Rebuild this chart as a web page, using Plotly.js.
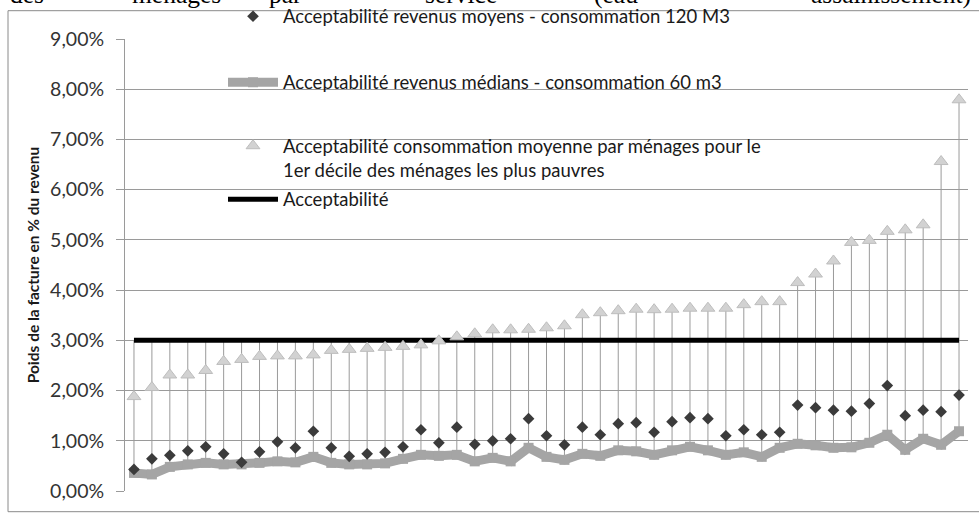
<!DOCTYPE html>
<html>
<head>
<meta charset="utf-8">
<script src="https://cdn.plot.ly/plotly-3.0.1.min.js"></script>
<style>html,body{margin:0;padding:0;background:#fff;}#chart{width:979px;height:522px;}</style>
</head>
<body>
<div id="chart"></div>
<script>
// ---- Data ----
var categories = [];
for (var k = 1; k <= 47; k++) categories.push(k);

var moyens120 = [0.43,0.64,0.71,0.80,0.88,0.74,0.57,0.78,0.98,0.86,1.19,0.86,0.69,0.74,0.77,0.88,1.22,0.96,1.27,0.93,1.00,1.04,1.44,1.10,0.92,1.27,1.12,1.34,1.36,1.17,1.38,1.46,1.44,1.10,1.22,1.12,1.17,1.71,1.66,1.61,1.59,1.74,2.10,1.50,1.61,1.58,1.91];
var medians60 = [0.36,0.33,0.48,0.53,0.56,0.53,0.53,0.56,0.59,0.57,0.68,0.56,0.53,0.53,0.55,0.64,0.72,0.70,0.72,0.59,0.66,0.59,0.86,0.68,0.62,0.74,0.70,0.81,0.79,0.72,0.81,0.88,0.81,0.72,0.77,0.68,0.86,0.94,0.91,0.86,0.87,0.96,1.12,0.82,1.04,0.92,1.19];
var pauvres = [1.88,2.06,2.31,2.31,2.40,2.58,2.62,2.68,2.69,2.69,2.71,2.80,2.82,2.84,2.86,2.88,2.91,2.99,3.07,3.13,3.21,3.21,3.22,3.25,3.29,3.51,3.55,3.59,3.62,3.61,3.62,3.64,3.64,3.64,3.71,3.77,3.77,4.15,4.32,4.58,4.95,4.99,5.17,5.20,5.30,6.56,7.79];
var acceptabilite = categories.map(function(){ return 3; });

var seriesNames = [
  "Acceptabilité revenus moyens - consommation 120 M3",
  "Acceptabilité revenus médians - consommation 60 m3",
  "Acceptabilité consommation moyenne par ménages pour le<br>1er décile des ménages les plus pauvres",
  "Acceptabilité"
];
var yTickVals = [0,1,2,3,4,5,6,7,8,9];
var yTickLabels = ["0,00%","1,00%","2,00%","3,00%","4,00%","5,00%","6,00%","7,00%","8,00%","9,00%"];
var yTitle = "Poids de la facture en % du revenu";
var headerWords = ["des","ménages","par","service","(eau","assainissement)"];
var headerX = [8,130,267,423,592,809];

// ---- Layout geometry ----
var W = 979, H = 522;
var L = 125, R = 11, T = 39.3, B = 30.7;
var PW = W - L - R, PH = H - T - B;
function px2x(px){ return (px - L) / PW; }
function py2y(py){ return (H - B - py) / PH; }

// High-low lines from data
var hlX = [], hlY = [];
categories.forEach(function(c, i){
  var vals = [moyens120[i], medians60[i], pauvres[i], acceptabilite[i]];
  hlX.push(c, c, null);
  hlY.push(Math.max.apply(null, vals), Math.min.apply(null, vals), null);
});

var traces = [
  {x: hlX, y: hlY, type: 'scatter', mode: 'lines', line: {color: '#9a9a9a', width: 1}, showlegend: false, hoverinfo: 'skip'},
  {x: categories, y: acceptabilite, name: seriesNames[3], type: 'scatter', mode: 'lines',
   line: {color: '#000000', width: 5}, legend: 'legend4'},
  {x: categories, y: medians60, name: seriesNames[1], type: 'scatter', mode: 'lines+markers',
   line: {color: '#a5a5a5', width: 9}, marker: {symbol: 'square', size: 10, color: '#a5a5a5'}, legend: 'legend2'},
  {x: categories, y: moyens120, name: seriesNames[0], type: 'scatter', mode: 'markers',
   marker: {symbol: 'diamond', size: 9, color: '#3b3b3b'}, legend: 'legend'},
  {x: categories, y: pauvres, name: seriesNames[2], type: 'scatter', mode: 'markers',
   marker: {symbol: 'triangle-up', size: 12, color: '#d2d2d2', line: {color: '#bdbdbd', width: 1}}, legend: 'legend3'}
];

var legFont = {family: 'Lato, "Open Sans", sans-serif', size: 18.5, color: '#1a1a1a'};
function leg(py, valign){
  return {x: px2x(223), xanchor: 'left', y: py2y(py), yanchor: 'middle', bgcolor: 'rgba(0,0,0,0)',
          borderwidth: 0, font: legFont, itemwidth: 50, valign: valign || 'middle', itemclick: false};
}

var annotations = headerWords.map(function(w, i){
  return {text: w, xref: 'paper', yref: 'paper', x: px2x(headerX[i]), y: py2y(11), xanchor: 'left', yanchor: 'bottom',
          showarrow: false, font: {family: '"Liberation Serif", "DejaVu Serif", serif', size: 25.5, color: '#000'}};
});

var layout = {
  width: W, height: H,
  margin: {l: L, r: R, t: T, b: B, pad: 0, autoexpand: false},
  paper_bgcolor: '#ffffff', plot_bgcolor: '#ffffff',
  showlegend: true,
  xaxis: {range: [0.5, 47.5], showticklabels: false, showgrid: false, zeroline: false, ticks: '',
          showline: false, fixedrange: true},
  yaxis: {range: [0, 9], tickvals: yTickVals, ticktext: yTickLabels, showgrid: true, gridcolor: '#9a9a9a', gridwidth: 1,
          zeroline: false, showline: true, linecolor: '#9a9a9a', linewidth: 1, ticks: 'outside', ticklen: 8,
          tickcolor: '#9a9a9a', ticklabelstandoff: 8, automargin: false,
          tickfont: {family: 'Lato, "Open Sans", sans-serif', size: 19.5, color: '#333333'},
          title: {text: yTitle, font: {family: 'Lato, "Open Sans", sans-serif', size: 15.5, color: '#1a1a1a', weight: 'bold'}, standoff: 6},
          fixedrange: true},
  legend: leg(17),
  legend2: leg(83),
  legend3: leg(158.5, 'top'),
  legend4: leg(200),
  shapes: [
    {type: 'rect', xref: 'paper', yref: 'paper', x0: px2x(220), x1: px2x(812), y0: py2y(216), y1: py2y(28),
     fillcolor: '#ffffff', line: {width: 0}, layer: 'between'},
    {type: 'rect', xref: 'paper', yref: 'paper', x0: px2x(8), x1: px2x(995), y0: py2y(512), y1: py2y(11),
     fillcolor: 'rgba(0,0,0,0)', line: {color: '#8a8a8a', width: 1}, layer: 'above'}
  ],
  annotations: annotations
};

Plotly.newPlot('chart', traces, layout, {displayModeBar: false, staticPlot: true});
</script>
</body>
</html>
